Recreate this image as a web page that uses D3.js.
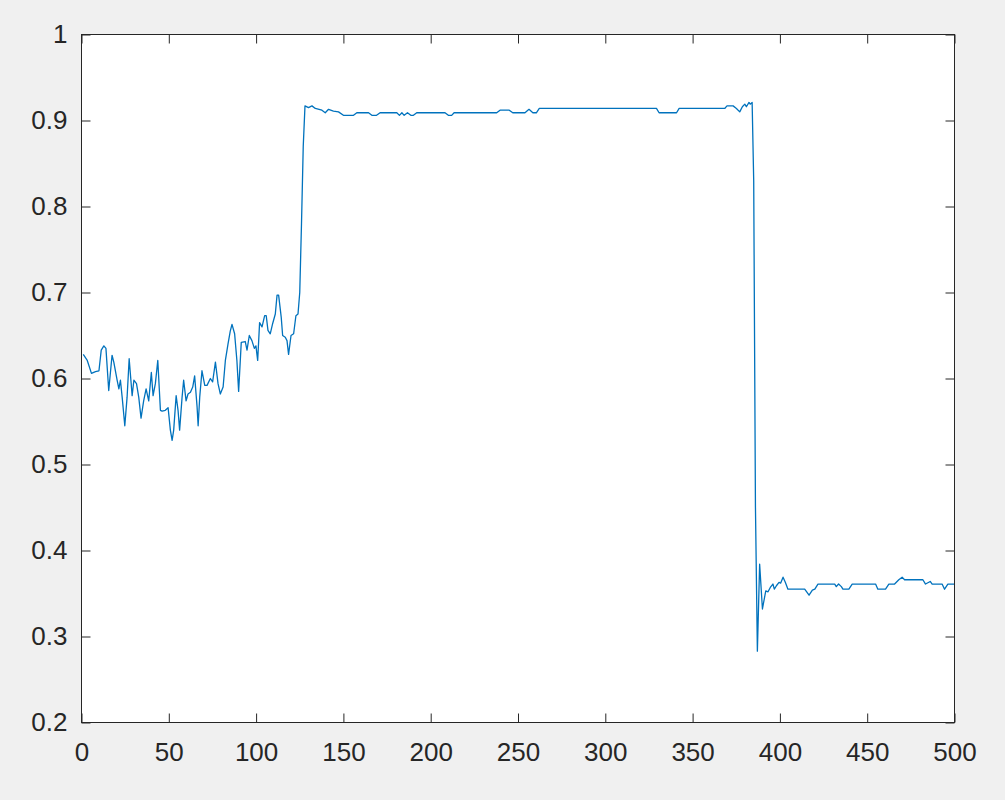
<!DOCTYPE html>
<html><head><meta charset="utf-8">
<script src="https://cdn.jsdelivr.net/npm/d3@7"></script>
<style>html,body{margin:0;padding:0;background:#f0f0f0;}svg{display:block;}</style>
</head><body>
<svg id="chart" width="1005" height="800"></svg>
<script>
const xTicks = [0,50,100,150,200,250,300,350,400,450,500];
const yTicks = [0.2,0.3,0.4,0.5,0.6,0.7,0.8,0.9,1];
const yTickLabels = ["0.2","0.3","0.4","0.5","0.6","0.7","0.8","0.9","1"];
const xValues = [1,3.3,5.7,8,10,11.3,12.8,14,15.6,17.5,18.5,20.4,21.4,22.3,23.3,24.8,26.1,27.3,29,30,31.5,32.8,34.1,35.6,37,38.5,40,41,42.3,43.7,45.2,46.2,48,49.6,50.9,51.9,52.8,54.2,55.3,56.2,57.6,58.5,59.9,61,62.4,63.7,64.8,66.2,66.8,67.7,69,70.6,71.9,73.8,75.1,76.7,78.2,79.5,81.1,82.4,83.9,85.2,86.2,87.7,89,90,91.5,93.8,94.8,96.1,97.6,99,99.9,100.9,102,103.4,104.9,105.8,106.8,108.1,109.5,111,112,112.9,114.4,115.2,116.7,117.7,118.6,120,121.5,122.8,124,125,126,127,128,130,132,133.9,137.7,139.6,141.5,144.3,147.2,150,155.8,157.7,164.4,166.3,169,171,180.6,182.1,183.5,184.8,186.7,188.6,190.1,192,208.2,210.1,212,213.4,237.8,239.7,245,247,254,256.3,258.5,260.5,262.2,329.3,330.8,340.8,342.3,368.4,369.7,373.2,375.1,377,378.5,379.9,380.8,382.3,383,384.1,385,386,387.1,388.4,390,391.9,393.2,394.5,396,396.8,398,399.5,400.4,401.8,403.1,404.6,414.2,416.7,418.6,420,421.8,431.4,432.3,433.6,435.2,436.1,439.5,441.4,454.8,456.1,460.5,462.4,465.7,468.1,470,471.4,481.9,483.4,486.1,487.2,492.9,494.3,496.2,500];
const yValues = [0.628,0.621,0.606,0.608,0.609,0.633,0.638,0.635,0.586,0.627,0.619,0.598,0.588,0.598,0.578,0.545,0.578,0.623,0.580,0.598,0.594,0.578,0.554,0.574,0.588,0.574,0.607,0.580,0.594,0.621,0.563,0.562,0.563,0.566,0.540,0.528,0.540,0.580,0.563,0.540,0.578,0.598,0.574,0.582,0.584,0.590,0.603,0.567,0.545,0.578,0.609,0.592,0.592,0.600,0.596,0.619,0.594,0.582,0.590,0.621,0.640,0.655,0.663,0.652,0.621,0.585,0.642,0.643,0.633,0.650,0.644,0.635,0.638,0.621,0.665,0.660,0.673,0.673,0.656,0.652,0.664,0.675,0.697,0.697,0.671,0.650,0.648,0.644,0.628,0.650,0.652,0.673,0.675,0.700,0.780,0.870,0.917,0.915,0.917,0.914,0.912,0.909,0.913,0.911,0.910,0.906,0.906,0.909,0.909,0.906,0.906,0.909,0.909,0.906,0.909,0.906,0.909,0.906,0.906,0.909,0.909,0.906,0.906,0.909,0.909,0.912,0.912,0.909,0.909,0.913,0.909,0.909,0.914,0.914,0.909,0.909,0.914,0.914,0.917,0.917,0.914,0.910,0.916,0.919,0.916,0.921,0.919,0.921,0.830,0.450,0.283,0.384,0.332,0.353,0.352,0.357,0.361,0.355,0.359,0.363,0.362,0.369,0.363,0.355,0.355,0.348,0.354,0.355,0.361,0.361,0.358,0.361,0.358,0.355,0.355,0.361,0.361,0.355,0.355,0.361,0.361,0.366,0.369,0.366,0.366,0.361,0.364,0.361,0.361,0.355,0.361,0.361];

const svg = d3.select("#chart");
const L = 81.5, R = 954.5, T = 34.5, B = 722.5;
const x = d3.scaleLinear().domain([0,500]).range([L,R]);
const y = d3.scaleLinear().domain([0.2,1]).range([B,T]);
const axisColor = "#262626";
const font = "Liberation Sans, Arial, Helvetica, sans-serif";
const fs = 26;
const tk = 9;

svg.append("rect").attr("x",L).attr("y",T).attr("width",R-L).attr("height",B-T).attr("fill","#ffffff");

const data = xValues.map((v,i)=>[v,yValues[i]]);
svg.append("path").datum(data)
  .attr("fill","none").attr("stroke","#0072bd").attr("stroke-width",1.3)
  .attr("stroke-linejoin","round")
  .attr("d", d3.line().x(d=>x(d[0])).y(d=>y(d[1])));

function styleAxis(g){
  g.select(".domain").remove();
  g.selectAll("line").attr("stroke",axisColor).attr("stroke-width",1);
  g.selectAll("text").attr("fill",axisColor).attr("font-family",font).attr("font-size",fs);
}
svg.append("g").attr("transform",`translate(0,${B})`)
  .call(d3.axisBottom(x).tickValues(xTicks).tickSizeInner(-tk).tickSizeOuter(0).tickPadding(20).tickFormat(d3.format("d")))
  .call(styleAxis);
svg.append("g").attr("transform",`translate(0,${T})`)
  .call(d3.axisTop(x).tickValues(xTicks).tickSizeInner(-tk).tickSizeOuter(0).tickFormat(""))
  .call(styleAxis);
svg.append("g").attr("transform",`translate(${L},0)`)
  .call(d3.axisLeft(y).tickValues(yTicks).tickSizeInner(-tk).tickSizeOuter(0).tickPadding(14).tickFormat((d,i)=>yTickLabels[i]))
  .call(styleAxis);
svg.append("g").attr("transform",`translate(${R},0)`)
  .call(d3.axisRight(y).tickValues(yTicks).tickSizeInner(-tk).tickSizeOuter(0).tickFormat(""))
  .call(styleAxis);

svg.append("rect").attr("x",L).attr("y",T).attr("width",R-L).attr("height",B-T)
  .attr("fill","none").attr("stroke",axisColor).attr("stroke-width",1);
</script>
</body></html>
